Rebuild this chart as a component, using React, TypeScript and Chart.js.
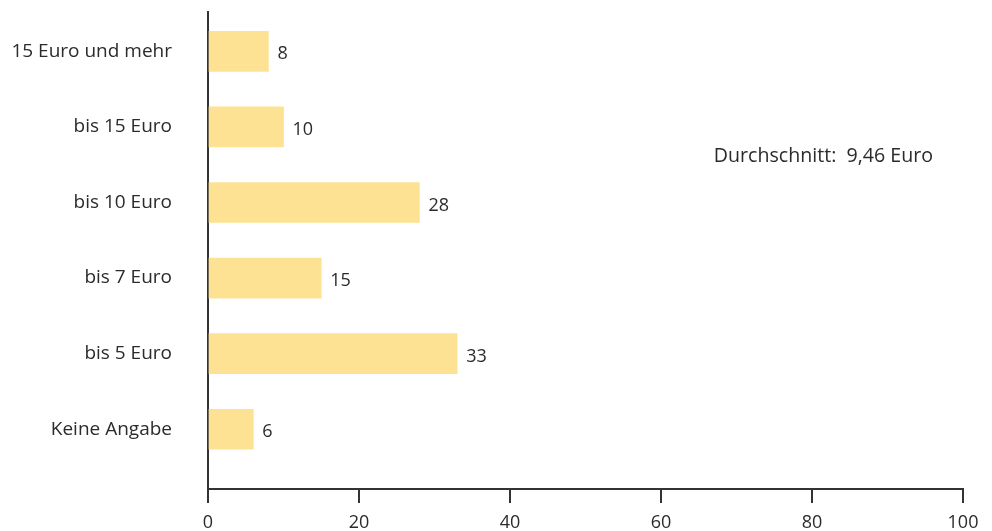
import React, { useEffect, useRef } from "react";
import { Chart, registerables } from "chart.js";

Chart.register(...registerables);

const categories = ["15 Euro und mehr", "bis 15 Euro", "bis 10 Euro", "bis 7 Euro", "bis 5 Euro", "Keine Angabe"];
const values = [8, 10, 28, 15, 33, 6];
const xTicks = [0, 20, 40, 60, 80, 100];
const note = "Durchschnitt:  9,46 Euro";

const FONT = "'Open Sans', sans-serif";
const TEXT = "#2b2b2b";

export default function App() {
  const ref = useRef<HTMLCanvasElement | null>(null);
  useEffect(() => {
    if (!ref.current) return;
    const labelPlugin = {
      id: "valueLabels",
      afterDatasetsDraw(chart: any) {
        const ctx = chart.ctx;
        const xs = chart.scales.x;
        const ys = chart.scales.y;
        ctx.save();
        ctx.fillStyle = TEXT;
        ctx.font = `18px ${FONT}`;
        ctx.textAlign = "left";
        ctx.textBaseline = "middle";
        values.forEach((v, i) => {
          ctx.fillText(String(v), xs.getPixelForValue(v) + 9, ys.getPixelForValue(i) + 3);
        });
        ctx.font = `19.6px ${FONT}`;
        ctx.fillText(note, xs.getPixelForValue(67), ys.getPixelForValue(1.39));
        ctx.restore();
      },
    };
    const chart = new Chart(ref.current, {
      type: "bar",
      data: {
        datasets: [
          {
            data: values.map((v, i) => ({ x: v, y: i })) as any,
            backgroundColor: "#fde293",
            borderWidth: 0,
            barThickness: 40,
          },
        ],
      },
      plugins: [labelPlugin],
      options: {
        animation: false,
        responsive: false,
        indexAxis: "y",
        layout: { padding: { top: 12, right: 29, left: 0, bottom: 0 } },
        plugins: { legend: { display: false }, tooltip: { enabled: false } },
        scales: {
          x: {
            type: "linear",
            min: 0,
            max: 100,
            offset: false,
            afterBuildTicks: (s: any) => {
              s.ticks = xTicks.map((v) => ({ value: v }));
            },
            afterFit: (s: any) => {
              s.height = 42;
            },
            grid: { display: true, drawOnChartArea: false, drawTicks: true, tickLength: 14, color: "#333", lineWidth: 2 },
            border: { display: true, color: "#333", width: 2 },
            ticks: { color: TEXT, font: { family: FONT, size: 18 }, padding: 9, maxRotation: 0 },
          },
          y: {
            type: "linear",
            reverse: true,
            offset: false,
            min: -0.52,
            max: 5.79,
            afterBuildTicks: (s: any) => {
              s.ticks = categories.map((_, i) => ({ value: i }));
            },
            afterFit: (s: any) => {
              s.width = 208;
            },
            grid: { display: true, drawOnChartArea: false, drawTicks: true, tickLength: 36, color: "rgba(0,0,0,0)", lineWidth: 0 },
            border: { display: true, color: "#333", width: 2 },
            ticks: {
              color: TEXT,
              font: { family: FONT, size: 19, lineHeight: 1 },
              padding: 0,
              callback: (v: any) => categories[Number(v)] ?? "",
            },
          },
        },
      },
    });
    return () => chart.destroy();
  }, []);
  return (
    <div style={{ position: "fixed", left: 0, top: 0, width: 992, height: 531, background: "#fff" }}>
      <canvas ref={ref} width={992} height={531} style={{ width: 992, height: 531 }} />
    </div>
  );
}
